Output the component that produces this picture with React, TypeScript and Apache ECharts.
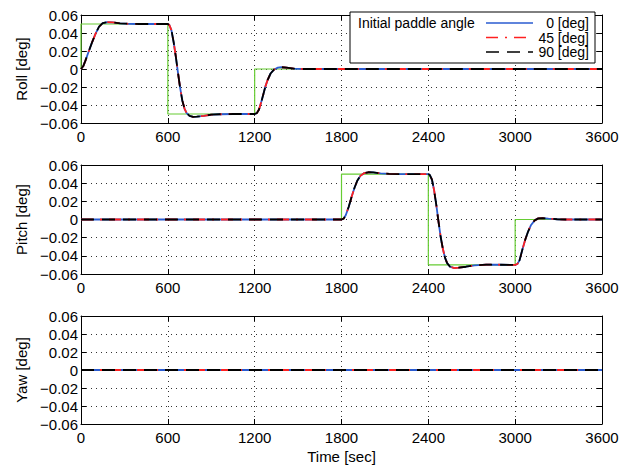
import React, { useEffect, useRef } from "react";
import * as echarts from "echarts";

// ---------- data ----------
const xTicks = [0, 600, 1200, 1800, 2400, 3000, 3600];
const yNames = ["Roll [deg]", "Pitch [deg]", "Yaw [deg]"];
const legendTitle = "Initial paddle angle";
const legendLabels = ["0 [deg]", "45 [deg]", "90 [deg]"];

// reference (commanded) steps
const refRollT = [0, 0, 600, 600, 1200, 1200, 3600];
const refRollV = [0, 0.05, 0.05, -0.05, -0.05, 0, 0];
const refPitchT = [0, 1800, 1800, 2400, 2400, 3000, 3000, 3600];
const refPitchV = [0, 0, 0.05, 0.05, -0.05, -0.05, 0, 0];
const refYawT = [0, 3600];
const refYawV = [0, 0];

// responses (all three paddle angles overlap)
const rollT = [0, 15, 30, 50, 75, 100, 125, 150, 180, 220, 270, 330, 400, 600,
  610, 625, 640, 655, 670, 685, 700, 715, 730, 750, 775, 800, 850, 900, 960, 1050, 1200,
  1215, 1230, 1245, 1260, 1275, 1290, 1310, 1335, 1360, 1385, 1420, 1470, 1530, 3600];
const rollV = [0, 0.003, 0.009, 0.018, 0.029, 0.039, 0.047, 0.051, 0.052, 0.0518, 0.0508, 0.0502, 0.05, 0.05,
  0.049, 0.043, 0.03, 0.014, -0.004, -0.021, -0.035, -0.044, -0.049, -0.052, -0.0533, -0.053, -0.052, -0.0508, -0.0503, -0.05, -0.05,
  -0.049, -0.045, -0.037, -0.028, -0.019, -0.012, -0.005, -0.0005, 0.0015, 0.002, 0.0015, 0.0005, 0, 0];
const pitchT = [0, 1800, 1815, 1830, 1850, 1870, 1890, 1910, 1930, 1955, 1985, 2020, 2070, 2130, 2200, 2400,
  2410, 2425, 2440, 2455, 2470, 2485, 2500, 2515, 2530, 2550, 2580, 2610, 2660, 2720, 2800, 2900, 3000,
  3015, 3030, 3050, 3070, 3090, 3110, 3135, 3160, 3190, 3230, 3290, 3350, 3600];
const pitchV = [0, 0, 0.001, 0.005, 0.014, 0.025, 0.035, 0.043, 0.048, 0.051, 0.052, 0.0518, 0.0508, 0.0502, 0.05, 0.05,
  0.049, 0.044, 0.032, 0.016, -0.002, -0.019, -0.032, -0.042, -0.048, -0.052, -0.0535, -0.053, -0.052, -0.0505, -0.0496, -0.0498, -0.05,
  -0.049, -0.045, -0.033, -0.022, -0.013, -0.006, -0.001, 0.0012, 0.0015, 0.001, 0.0003, 0, 0];
const yawT = [0, 3600];
const yawV = [0, 0];

// ---------- helpers ----------
const zip = (t: number[], v: number[]) => t.map((x, i) => [x, v[i]]);
const FONT = "Liberation Sans, Arial, Helvetica, sans-serif";
const GRIDS = [
  { left: 81, top: 15, width: 521, height: 108 },
  { left: 81, top: 165, width: 521, height: 109 },
  { left: 81, top: 316, width: 521, height: 109 },
];
const BLUE = "#2a5bd0";
const RED = "#ff2020";
const BLACK = "#000000";
const GREEN = "#66cc33";
const RED_DASH = [12, 7, 2, 7];
const BLACK_DASH = [13, 8];

const fmtY = (v: number) => {
  if (Math.abs(v) < 1e-9) return "0";
  return (v < 0 ? "\u2212" : "") + Math.abs(v).toFixed(2);
};
const fmtX = (v: number) => String(xTicks.find((t) => Math.abs(t - v) < 1e-6) ?? Math.round(v));

export default function App() {
  const ref = useRef<HTMLDivElement>(null);
  useEffect(() => {
    if (!ref.current) return;
    const chart = echarts.init(ref.current, undefined, { renderer: "svg" });
    const refs = [zip(refRollT, refRollV), zip(refPitchT, refPitchV), zip(refYawT, refYawV)];
    const resp = [zip(rollT, rollV), zip(pitchT, pitchV), zip(yawT, yawV)];

    const xAxis: any[] = [];
    const yAxis: any[] = [];
    const series: any[] = [];
    GRIDS.forEach((_, i) => {
      const tick = { show: true, inside: true, length: 5, lineStyle: { color: "#000", width: 1 } };
      const line = { show: true, onZero: false, lineStyle: { color: "#000", width: 1 } };
      const split = { show: true, lineStyle: { color: "#333", width: 1, type: [1, 4] } };
      xAxis.push({
        gridIndex: i, type: "value", min: 0, max: 3600, interval: 600, position: "bottom",
        axisLine: line, axisTick: tick, splitLine: split,
        axisLabel: { margin: 6, fontSize: 15, color: "#000", fontFamily: FONT, formatter: fmtX },
        name: i === 2 ? "Time [sec]" : "", nameLocation: "middle", nameGap: 25,
        nameTextStyle: { fontSize: 15, color: "#000", fontFamily: FONT },
      });
      xAxis.push({
        gridIndex: i, type: "value", min: 0, max: 3600, interval: 600, position: "top",
        axisLine: line, axisTick: tick, splitLine: { show: false }, axisLabel: { show: false },
      });
      yAxis.push({
        gridIndex: i, type: "value", min: -0.06, max: 0.06, interval: 0.02, position: "left",
        axisLine: line, axisTick: tick, splitLine: split,
        axisLabel: { margin: 3, fontSize: 15, color: "#000", fontFamily: FONT, formatter: fmtY },
        name: yNames[i], nameLocation: "middle", nameGap: 46, nameRotate: 90,
        nameTextStyle: { fontSize: 15, color: "#000", fontFamily: FONT },
      });
      yAxis.push({
        gridIndex: i, type: "value", min: -0.06, max: 0.06, interval: 0.02, position: "right",
        axisLine: line, axisTick: tick, splitLine: { show: false }, axisLabel: { show: false },
      });
      const common = { type: "line", xAxisIndex: 2 * i, yAxisIndex: 2 * i, symbol: "none", silent: true };
      series.push({ ...common, name: "ref", data: refs[i], lineStyle: { color: GREEN, width: 1.2 }, z: 2 });
      series.push({ ...common, name: legendLabels[0], data: resp[i], lineStyle: { color: BLUE, width: 1.8 }, z: 3 });
      series.push({ ...common, name: legendLabels[1], data: resp[i], lineStyle: { color: RED, width: 1.8, type: RED_DASH }, z: 4 });
      series.push({ ...common, name: legendLabels[2], data: resp[i], lineStyle: { color: BLACK, width: 1.8, type: BLACK_DASH }, z: 5 });
    });

    const lx0 = 486, lx1 = 533, ly = [23, 37.5, 52];
    const graphic: any[] = [
      { type: "rect", shape: { x: 350, y: 12, width: 245, height: 51 }, style: { fill: "#fff", stroke: "#000", lineWidth: 1 }, z: 100 },
      { type: "text", x: 358, y: ly[0], style: { text: legendTitle, fontSize: 14, fontFamily: FONT, fill: "#000", textVerticalAlign: "middle", verticalAlign: "middle" }, z: 101 },
      { type: "line", shape: { x1: lx0, y1: ly[0], x2: lx1, y2: ly[0] }, style: { stroke: BLUE, lineWidth: 1.5 }, z: 101 },
      { type: "line", shape: { x1: lx0, y1: ly[1], x2: lx1, y2: ly[1] }, style: { stroke: RED, lineWidth: 1.5, lineDash: RED_DASH }, z: 101 },
      { type: "line", shape: { x1: lx0, y1: ly[2], x2: lx1, y2: ly[2] }, style: { stroke: BLACK, lineWidth: 1.5, lineDash: BLACK_DASH }, z: 101 },
    ];
    legendLabels.forEach((t, k) => {
      graphic.push({ type: "text", x: 589, y: ly[k], style: { text: t, fontSize: 14, fontFamily: FONT, fill: "#000", align: "right", textAlign: "right", verticalAlign: "middle", textVerticalAlign: "middle" }, z: 101 });
    });

    chart.setOption({
      animation: false,
      backgroundColor: "#fff",
      grid: GRIDS.map((g) => ({ ...g, containLabel: false })),
      xAxis, yAxis, series, graphic,
    });
    return () => chart.dispose();
  }, []);
  return <div ref={ref} style={{ position: "fixed", left: 0, top: 0, width: 630, height: 465 }} />;
}
